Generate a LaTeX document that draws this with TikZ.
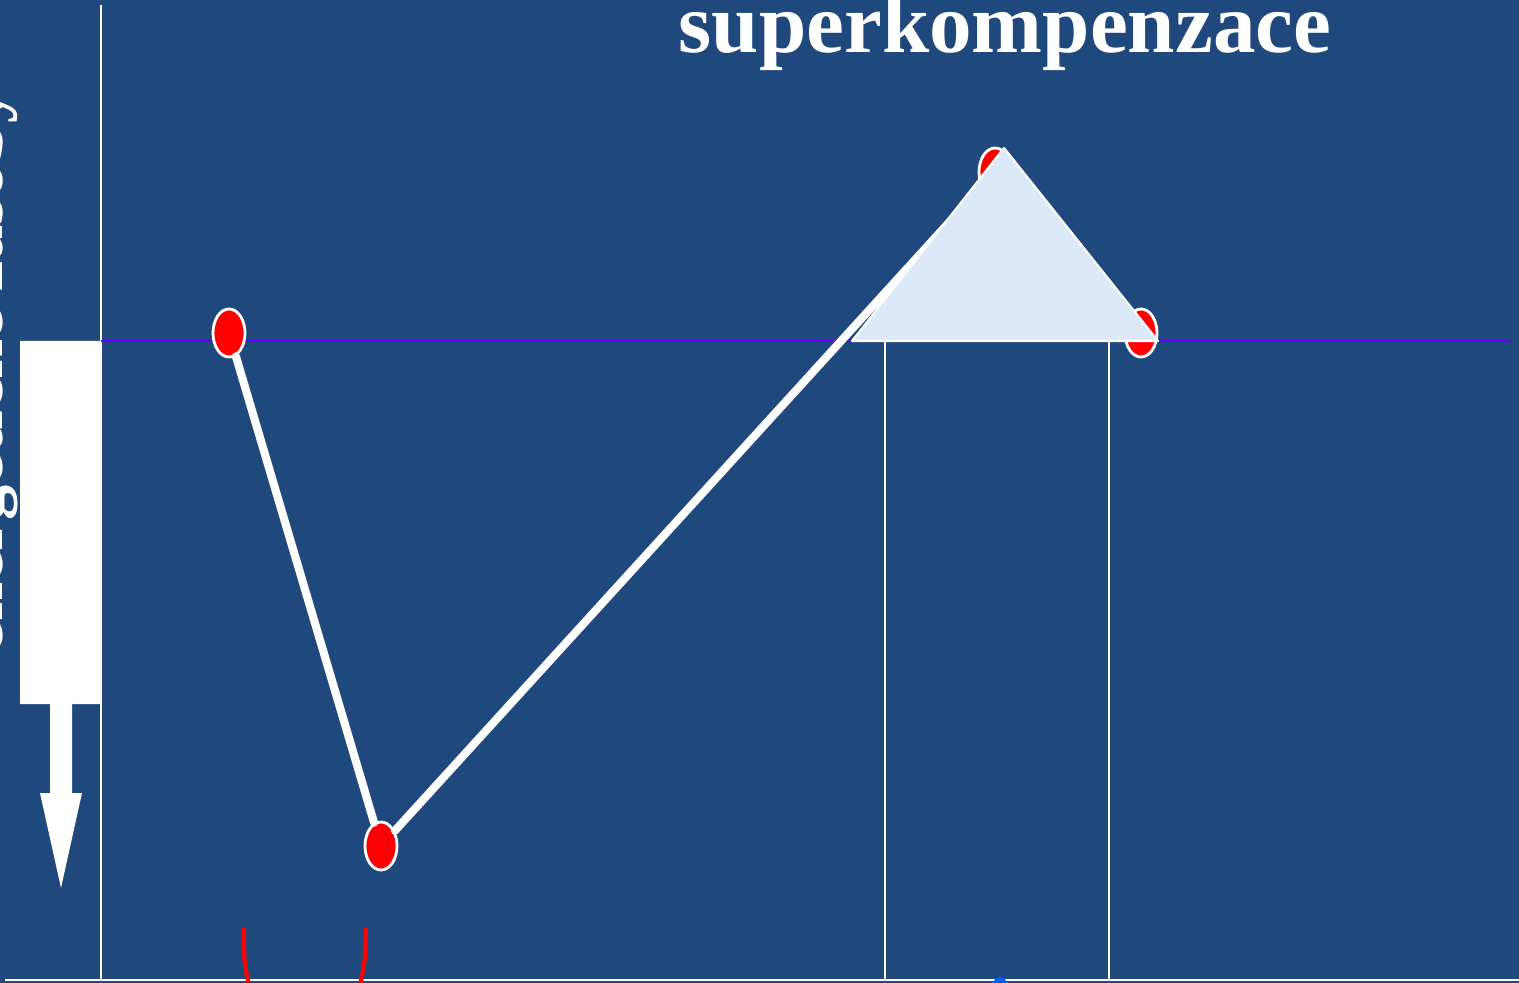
\documentclass[tikz,border=0pt]{standalone}
\usepackage{fontspec}
\setmainfont{Liberation Serif}
\usetikzlibrary{shapes.geometric}
\definecolor{slidebg}{RGB}{31,73,125}
\definecolor{normline}{RGB}{100,0,255}
\definecolor{peakfill}{RGB}{220,233,248}
\begin{document}
\begin{tikzpicture}[x=0.01cm, y=-0.01cm,
  pt/.style={ellipse, draw=white, fill=red, line width=0.8pt,
    minimum width=3.2mm, minimum height=4.8mm, inner sep=0pt},
  axis/.style={draw=white, line width=0.6pt},
  curve/.style={draw=white, line width=2.3pt, line cap=round}]
  \fill[slidebg] (0,0) rectangle (1519,983);
  \useasboundingbox (0,0) rectangle (1519,983);
  \clip (0,0) rectangle (1519,983);

  \node[font=\fontsize{24.2}{29}\selectfont\bfseries, text=white, anchor=base,
    inner sep=0pt] (title) at (1005,53) {superkompenzace};
  \node[font=\fontsize{20}{24}\selectfont\bfseries, text=white, rotate=90,
    anchor=base east, inner sep=0pt] (ylabel) at (2,88) {energetické zásoby};

  % axes and the starting level
  \draw[axis] (101,5) -- (101,980);
  \draw[axis] (5,980) -- (1519,980);
  \draw[normline, line width=0.6pt] (101,341) -- (1510,341);
  \draw[axis] (885,341) -- (885,980);
  \draw[axis] (1109,341) -- (1109,980);

  \fill[white] (20,341) -- (101,341) -- (101,704) -- (72,704) -- (72,793)
    -- (82,793) -- (61,888) -- (40,793) -- (50,793) -- (50,704)
    -- (20,704) -- cycle;

  \draw[red, line width=1.2pt] (244,928) .. controls (244,962) .. (249,985);
  \draw[red, line width=1.2pt] (366,928) .. controls (365,962) .. (360,985);
  \draw[blue!60!cyan, line width=1pt] (993,985) .. controls (997,977) and (1003,977) .. (1007,985);

  \node[pt] (p1) at (229,333) {};
  \node[pt] (p2) at (381,846) {};
  \node[pt] (p3) at (995,172) {};
  \node[pt] (p4) at (1141,333) {};

  \draw[curve] (p1) -- (p2);
  \draw[curve] (p2) -- (p3);

  \draw[white, fill=peakfill, line width=0.6pt, line join=round]
    (852,341) -- (1004,148) -- (1158,341) -- cycle;
\end{tikzpicture}
\end{document}
